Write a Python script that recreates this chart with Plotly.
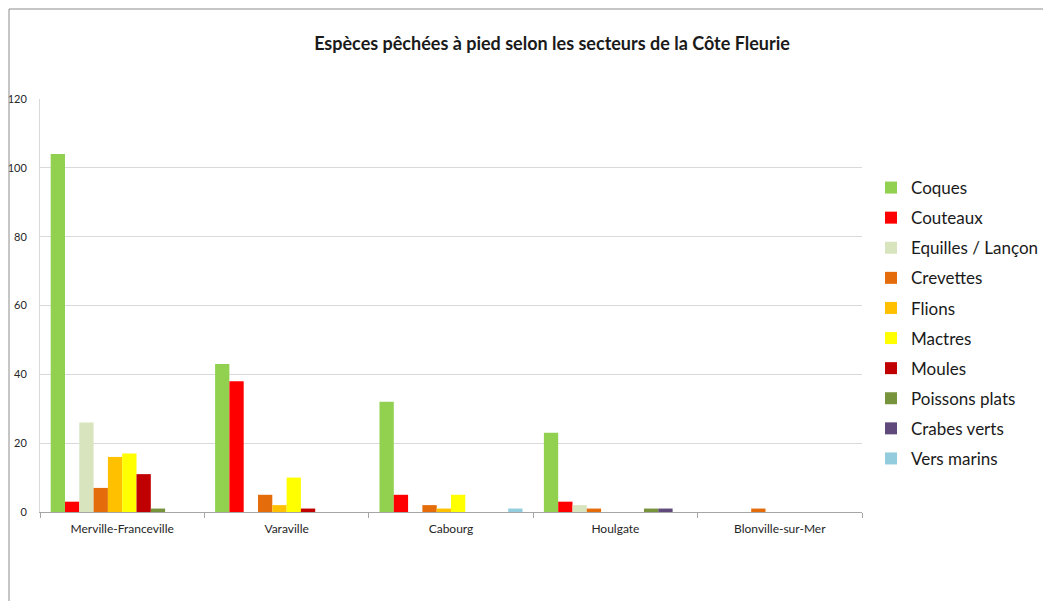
import plotly.graph_objects as go

secteurs = ["Merville-Franceville", "Varaville", "Cabourg", "Houlgate", "Blonville-sur-Mer"]

especes = ["Coques", "Couteaux", "Equilles / Lançon", "Crevettes", "Flions",
           "Mactres", "Moules", "Poissons plats", "Crabes verts", "Vers marins"]

coques = [104, 43, 32, 23, 0]
couteaux = [3, 38, 5, 3, 0]
equilles = [26, 0, 0, 2, 0]
crevettes = [7, 5, 2, 1, 1]
flions = [16, 2, 1, 0, 0]
mactres = [17, 10, 5, 0, 0]
moules = [11, 1, 0, 0, 0]
poissons_plats = [1, 0, 0, 1, 0]
crabes_verts = [0, 0, 0, 1, 0]
vers_marins = [0, 0, 1, 0, 0]

y_ticks = [0, 20, 40, 60, 80, 100, 120]

valeurs = [coques, couteaux, equilles, crevettes, flions,
           mactres, moules, poissons_plats, crabes_verts, vers_marins]
couleurs = ["#92D050", "#FF0000", "#D7E4BD", "#E46C0A", "#FFC000",
            "#FFFF00", "#C00000", "#77933C", "#604A7B", "#93CDDD"]

fig = go.Figure()
for nom, vals, coul in zip(especes, valeurs, couleurs):
    fig.add_trace(go.Bar(name=nom, x=secteurs, y=vals, marker_color=coul,
                         marker_line_width=0, legendgroup=nom))

W, H = 1043, 601
ml, mr, mt, mb = 40, 181, 99, 89
pw, ph = W - ml - mr, H - mt - mb

def px_x(x):
    return (x - ml) / pw

def px_y(y):
    return (H - mb - y) / ph

# outer chart frame
fig.add_shape(type="rect", xref="paper", yref="paper",
              x0=px_x(9), x1=px_x(1060), y0=px_y(620), y1=px_y(9),
              line=dict(color="#8c8c8c", width=1), fillcolor="rgba(0,0,0,0)")

fig.update_layout(
    width=W, height=H,
    margin=dict(l=ml, r=mr, t=mt, b=mb, autoexpand=False),
    paper_bgcolor="white", plot_bgcolor="white",
    barmode="group", bargap=0.13, bargroupgap=0,
    font=dict(family="Lato", color="#404040"),
    title=dict(text="<b>Espèces pêchées à pied selon les secteurs de la Côte Fleurie</b>",
               x=552 / W, xref="container", xanchor="center",
               y=1 - 44 / H, yref="container", yanchor="middle",
               font=dict(size=18, color="#1a1a1a", family="Lato")),
    legend=dict(xref="container", x=871 / W, xanchor="left",
                yref="container", y=1 - 170 / H, yanchor="top",
                font=dict(size=17, color="#1a1a1a"), tracegroupgap=5,
                maxheight=420, bgcolor="rgba(0,0,0,0)"),
    showlegend=True,
)

fig.update_xaxes(showgrid=False, showline=True, linecolor="#a6a6a6", linewidth=1,
                 ticks="outside", tickson="boundaries", ticklen=5, tickcolor="#a6a6a6",
                 tickfont=dict(size=12, color="#262626"), ticklabelstandoff=6)
fig.update_yaxes(range=[0, 120], tickvals=y_ticks, showgrid=True, gridcolor="#d9d9d9",
                 showline=True, linecolor="#d9d9d9", zeroline=False,
                 ticks="", tickfont=dict(size=11, color="#262626"), ticklabelstandoff=10)

fig.write_html("out.html")
